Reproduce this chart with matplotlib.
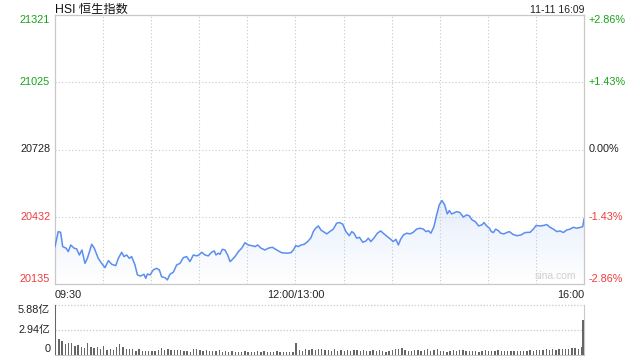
import numpy as np
import matplotlib
matplotlib.use("Agg")
import matplotlib.pyplot as plt

plt.rcParams['font.family'] = ['Liberation Sans', 'Noto Sans CJK SC', 'DejaVu Sans']

title = "HSI 恒生指数"
stamp = "11-11 16:09"
prev_close = 20728
price_ticks = [20135, 20432, 20728, 21025, 21321]
time_labels = ["09:30", "12:00/13:00", "16:00"]
vol_ticks = [0, 2.94, 5.88]
vol_labels = ["0", "2.94亿", "5.88亿"]

# minutes since 09:30 (lunch break removed) and index level
minutes = [0, 2, 3.5, 4.8, 6.9, 8.3, 9.8, 11.9, 13.5, 15.2, 16.8, 18.7, 20.2, 22.9, 24.5,
           27, 29.1, 31.2, 33.3, 35.4, 37.9, 39.5, 41.6, 43, 44.7, 46.4, 47.8, 49.9, 51.4,
           53.4, 55.5, 56.6, 57.6, 59.3, 61.3, 63.4, 65.1, 66.5, 68.6, 70.1, 71.7, 73.8,
           75.9, 78, 80, 82.1, 84.2, 86.3, 88.4, 89.8, 91.5, 93.6, 95.6, 97.7, 99.4, 100.4,
           101.9, 102.9, 104.4, 106, 107.7, 109.2, 110.2, 112.3, 114.4, 116.5, 118.5, 120.6,
           122.7, 124.8, 126.4, 128.5, 131, 133.1, 135.6, 138.3, 141.4, 144.5, 147.2, 148.7,
           150.2, 151.8, 153.5, 155.5, 157.6, 159.7, 161.1, 162.6, 164.3, 165.9, 167.4,
           169.5, 171.5, 173.6, 175.7, 177.4, 179.5, 181.5, 183.6, 185.1, 186.5, 188.2,
           189.9, 192, 194, 195.5, 197, 199.1, 201.1, 203.2, 205.2, 207.3, 209.4, 211,
           212.7, 214.2, 215.6, 217.3, 219.4, 221.5, 223.5, 225.6, 227.7, 229.8, 231.4,
           232.9, 234.5, 236.4, 238.1, 239.7, 241.4, 243.1, 244.7, 246, 247.4, 248.5,
           250.6, 252.6, 254.7, 256.8, 258.5, 260.1, 262.2, 264.3, 266.4, 267.6, 269.3,
           271, 272.2, 273.5, 274.9, 276.6, 278, 280.1, 281.8, 283.5, 285.6, 288.1, 290.6,
           293.3, 296.4, 298.4, 300.1, 302.6, 304.7, 306.8, 308.8, 310.9, 313, 315, 317.1,
           319.2, 321.3, 323.3, 325.4, 327.9, 329.2, 330]
prices = [20300, 20366, 20363, 20300, 20293, 20278, 20307, 20293, 20290, 20263, 20285, 20226,
          20248, 20310, 20293, 20248, 20226, 20207, 20238, 20222, 20216, 20248, 20275, 20256,
          20263, 20248, 20256, 20219, 20175, 20170, 20178, 20160, 20179, 20175, 20197, 20204,
          20197, 20167, 20163, 20153, 20178, 20187, 20219, 20226, 20251, 20256, 20234, 20263,
          20259, 20263, 20275, 20263, 20259, 20275, 20281, 20263, 20271, 20266, 20288, 20285,
          20263, 20234, 20240, 20256, 20278, 20293, 20317, 20307, 20304, 20300, 20307, 20293,
          20285, 20293, 20297, 20285, 20273, 20271, 20273, 20285, 20304, 20300, 20307, 20310,
          20322, 20339, 20366, 20381, 20391, 20373, 20366, 20356, 20366, 20377, 20403, 20406,
          20399, 20366, 20348, 20366, 20359, 20337, 20341, 20319, 20325, 20337, 20322, 20339,
          20359, 20369, 20356, 20344, 20332, 20322, 20332, 20307, 20332, 20351, 20359, 20356,
          20363, 20377, 20381, 20377, 20366, 20370, 20359, 20388, 20440, 20484, 20503, 20484,
          20444, 20459, 20444, 20447, 20454, 20450, 20430, 20440, 20435, 20418, 20410, 20391,
          20396, 20406, 20391, 20381, 20366, 20362, 20377, 20370, 20359, 20356, 20362, 20366,
          20354, 20348, 20351, 20362, 20363, 20377, 20393, 20391, 20393, 20397, 20385, 20377,
          20366, 20369, 20362, 20373, 20377, 20385, 20381, 20385, 20388, 20421]

# turnover per 2-minute bar, 亿 (last one is the closing auction)
volume = [5.88, 1.88, 1.56, 1.2, 1.36, 1.3, 1.0, 1.15, 0.85, 0.76, 1.3, 0.85, 0.75, 0.84, 0.6,
          1.05, 0.56, 0.62, 0.58, 0.84, 1.18, 0.9, 0.6, 0.62, 0.7, 0.42, 0.6, 0.38, 0.46, 0.42,
          0.46, 0.42, 0.56, 0.8, 0.5, 0.62, 0.5, 0.55, 0.48, 0.48, 0.42, 0.38, 0.3, 0.65, 0.6,
          0.58, 0.4, 0.55, 0.42, 0.46, 0.36, 0.58, 0.3, 0.36, 0.34, 0.36, 0.32, 0.35, 0.3, 0.38,
          0.32, 0.35, 0.28, 0.4, 0.3, 0.36, 0.3, 0.32, 0.28, 0.36, 0.3, 0.26, 0.34, 0.28, 0.3,
          1.36, 0.5, 0.46, 0.6, 0.52, 0.66, 0.5, 0.6, 0.7, 0.55, 0.5, 0.45, 0.62, 0.4, 0.5,
          0.45, 0.55, 0.4, 0.5, 0.48, 0.42, 0.5, 0.38, 0.45, 0.5, 0.4, 0.48, 0.42, 0.35, 0.45,
          0.55, 0.62, 0.68, 0.8, 0.55, 0.42, 0.4, 0.48, 0.5, 0.45, 0.58, 0.62, 0.4, 0.55, 0.6,
          0.38, 0.42, 0.35, 0.45, 0.58, 0.4, 0.48, 0.52, 0.4, 0.45, 0.38, 0.42, 0.35, 0.4, 0.5,
          0.42, 0.45, 0.38, 0.48, 0.4, 0.42, 0.36, 0.4, 0.44, 0.38, 0.45, 0.42, 0.38, 0.5, 0.45,
          0.48, 0.55, 0.5, 0.6, 0.55, 0.62, 0.58, 0.65, 0.6, 0.7, 0.68, 0.75, 0.82, 0.7, 0.85,
          4.0]

GREEN = '#1aa31a'
RED = '#f03c3c'
GRID = '#c8c8c8'
LINE = '#5b8ef0'

fig = plt.figure(figsize=(6.4, 3.6), dpi=100)
ax = fig.add_axes([55 / 640, 1 - 284 / 360, 529 / 640, 269 / 360])
axv = fig.add_axes([55 / 640, 1 - 354.5 / 360, 529 / 640, 50 / 360])

# price panel
ax.set_xlim(0, 330)
ax.set_ylim(price_ticks[0], price_ticks[-1])
for t in range(30, 330, 30):
    ax.axvline(t, color=GRID, lw=0.8, ls=(0, (1, 2)))
for p in price_ticks[1:-1]:
    ax.axhline(p, color=GRID, lw=0.8, ls=(0, (1, 2)))

x = np.array(minutes)
y = np.array(prices)
# soft gradient under the line
grad = np.linspace(0, 1, 256).reshape(-1, 1)
img = ax.imshow(grad, extent=[0, 330, price_ticks[0], y.max()], origin='lower',
                cmap=matplotlib.colors.LinearSegmentedColormap.from_list(
                    'g', ['#ffffff', '#e6eefc']), aspect='auto', zorder=1)
poly = ax.fill_between(x, y, price_ticks[0], color='none')
img.set_clip_path(poly.get_paths()[0], transform=ax.transData)
ax.plot(x, y, color=LINE, lw=1.1, zorder=3)

ax.set_xticks([])
ax.set_yticks([])
for s in ax.spines.values():
    s.set_color(GRID)
    s.set_linewidth(0.9)

ytf = ax.get_yaxis_transform()
for i, p in enumerate(price_ticks):
    pct = (p - prev_close) / prev_close * 100
    col = GREEN if p > prev_close else (RED if p < prev_close else '#222222')
    va = 'top' if i == len(price_ticks) - 1 else ('bottom' if i == 0 else 'center')
    ax.text(-0.009, p, f"{p}", transform=ytf, ha='right', va=va, color=col, fontsize=7.8)
    ax.text(1.009, p, f"{pct:+.2f}%" if p != prev_close else "0.00%", transform=ytf,
            ha='left', va=va, color=col, fontsize=7.8)

xtf = ax.get_xaxis_transform()
ax.text(0, -0.022, time_labels[0], transform=xtf, ha='left', va='top', fontsize=7.8, color='#222222')
ax.text(150, -0.022, time_labels[1], transform=xtf, ha='center', va='top', fontsize=7.8, color='#222222')
ax.text(330, -0.022, time_labels[2], transform=xtf, ha='right', va='top', fontsize=7.8, color='#222222')
ax.text(0, 1.006, title, transform=ax.transAxes, ha='left', va='baseline', fontsize=8.8, color='#111111')
ax.text(1, 1.006, stamp, transform=ax.transAxes, ha='right', va='baseline', fontsize=7.5, color='#222222')
ax.text(0.985, 0.012, "sina.com", transform=ax.transAxes, ha='right', va='bottom', fontsize=7.5, color='#d0d0d0')

# volume panel
vol_x = list(np.arange(0, 330, 2)) + [329]
axv.bar(vol_x, volume, width=0.85, align='edge', color='#666666', zorder=3)
axv.set_xlim(0, 330)
axv.set_ylim(0, vol_ticks[-1])
for v in vol_ticks[1:]:
    axv.axhline(v, color=GRID, lw=0.9, ls=(0, (1, 1.5)), zorder=1, clip_on=False)
axv.set_xticks([])
axv.set_yticks([])
axv.spines['top'].set_visible(False)
for k in ['left', 'right', 'bottom']:
    axv.spines[k].set_color(GRID)
vtf = axv.get_yaxis_transform()
axv.text(-0.009, vol_ticks[0], vol_labels[0], transform=vtf, ha='right', va='bottom', fontsize=7.8, color='#222222')
axv.text(-0.009, vol_ticks[1], vol_labels[1], transform=vtf, ha='right', va='center', fontsize=7.8, color='#222222')
axv.text(-0.009, vol_ticks[2], vol_labels[2], transform=vtf, ha='right', va='top', fontsize=7.8, color='#222222')

fig.savefig("out.png", dpi=100)
